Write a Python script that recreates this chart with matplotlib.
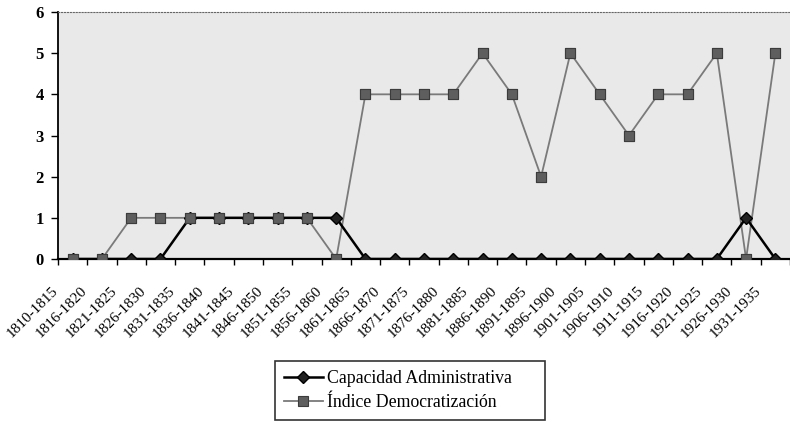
import numpy as np
import matplotlib as mpl
mpl.use('Agg')
import matplotlib.pyplot as plt
import matplotlib.transforms as mtrans

periodos = ['1810-1815', '1816-1820', '1821-1825', '1826-1830', '1831-1835',
            '1836-1840', '1841-1845', '1846-1850', '1851-1855', '1856-1860',
            '1861-1865', '1866-1870', '1871-1875', '1876-1880', '1881-1885',
            '1886-1890', '1891-1895', '1896-1900', '1901-1905', '1906-1910',
            '1911-1915', '1916-1920', '1921-1925', '1926-1930', '1931-1935']
capacidad = [0, 0, 0, 0, 1, 1, 1, 1, 1, 1, 0, 0, 0, 0, 0, 0, 0, 0, 0, 0, 0, 0, 0, 1, 0]
democracia = [0, 0, 1, 1, 1, 1, 1, 1, 1, 0, 4, 4, 4, 4, 5, 4, 2, 5, 4, 3, 4, 4, 5, 0, 5]

plt.rcParams['font.family'] = ['Liberation Serif', 'DejaVu Serif']

fig = plt.figure(figsize=(7.9, 4.21), dpi=100)
ax = fig.add_axes([58/790, 1 - 259/421, 1 - 58/790, (259 - 12)/421])
ax.set_facecolor('#e9e9e9')

x = np.arange(len(periodos))
sq = dict(marker='s', ms=7.5, mfc='#5e5e5e', mec='#3c3c3c', mew=0.8)
dm = dict(marker='D', ms=6.5, mfc='#222222', mec='black')
# lineas: la gris debajo, la negra encima; marcadores cuadrados arriba de todo
l_dem, = ax.plot(x, democracia, color='#7a7a7a', lw=1.3, zorder=2, **sq)
l_cap, = ax.plot(x, capacidad, color='black', lw=1.8, zorder=3, **dm)
ax.plot(x, democracia, ls='none', zorder=5, **sq)

ax.set_xlim(-0.5, len(periodos) - 0.5)
ax.set_ylim(0, 6)
ax.set_yticks(range(7))
ax.tick_params(axis='y', length=5, width=1, pad=5, labelsize=12)
for lab in ax.get_yticklabels():
    lab.set_fontweight('bold')

ax.set_xticks(x)
ax.set_xticklabels(periodos, rotation=45, ha='right', fontsize=11)
ax.set_xticks(np.arange(-0.5, len(periodos), 1), minor=True)
ax.tick_params(axis='x', which='major', length=0, pad=18)
ax.tick_params(axis='x', which='minor', length=4, width=1)
shift = mtrans.ScaledTranslation(-12/100, 0, fig.dpi_scale_trans)
for lab in ax.get_xticklabels():
    lab.set_transform(lab.get_transform() + shift)

ax.spines['right'].set_visible(False)
ax.spines['top'].set_linestyle(':')
ax.spines['top'].set_color('#666666')
ax.spines['left'].set_linewidth(1.3)
ax.spines['bottom'].set_linewidth(1.6)

leg = fig.legend([l_cap, l_dem], ['Capacidad Administrativa', 'Índice Democratización'],
                 loc='lower left', bbox_to_anchor=(275/790, 1/421, 270/790, 59/421),
                 mode='expand', fontsize=12.8, frameon=True, fancybox=False,
                 edgecolor='black', handlelength=2.2, borderaxespad=0.0,
                 borderpad=0.5, labelspacing=0.4, handletextpad=0.25)
leg.get_frame().set_linewidth(1.2)

fig.savefig('out.png', dpi=100)
